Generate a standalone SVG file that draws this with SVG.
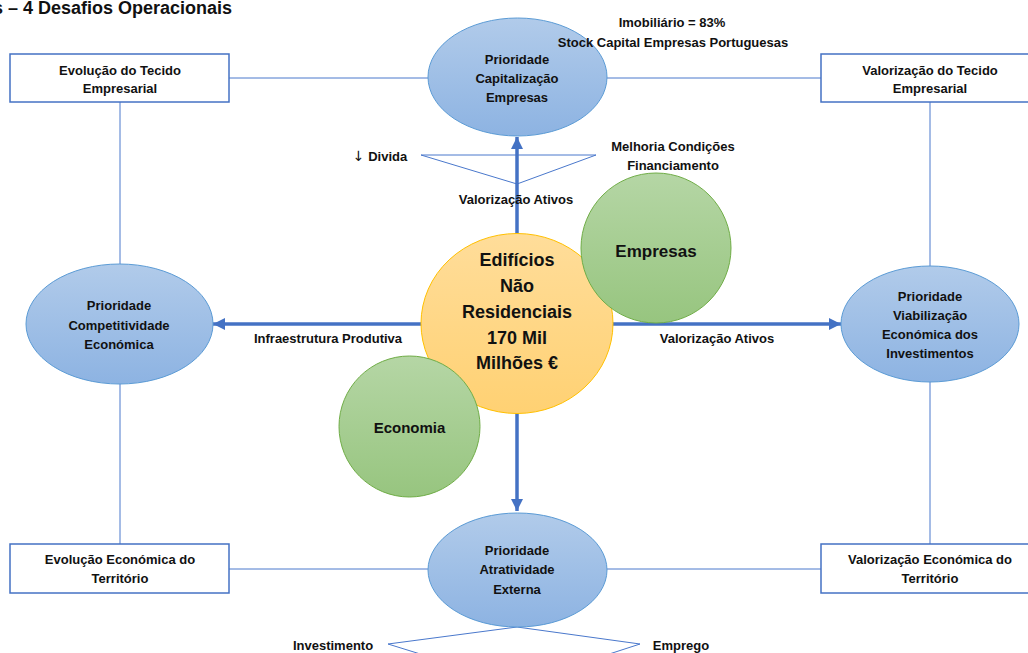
<svg xmlns="http://www.w3.org/2000/svg" width="1028" height="653" viewBox="0 0 1028 653">
<defs>
<linearGradient id="gBlue" x1="0" y1="0" x2="0" y2="1"><stop offset="0" stop-color="#B1CBEA"/><stop offset="1" stop-color="#8DB3E2"/></linearGradient>
<linearGradient id="gGold" x1="0" y1="0" x2="0" y2="1"><stop offset="0" stop-color="#FFDD9A"/><stop offset="1" stop-color="#FFD173"/></linearGradient>
<linearGradient id="gGreen" x1="0" y1="0" x2="0" y2="1"><stop offset="0" stop-color="#B5D6A5"/><stop offset="1" stop-color="#97C57F"/></linearGradient>
<marker id="ah" markerUnits="userSpaceOnUse" markerWidth="14" markerHeight="14" viewBox="0 0 14 14" refX="12" refY="7" orient="auto"><path d="M0,1 L12,7 L0,13 Z" fill="#4472C4"/></marker>
<style>
text{font-family:"Liberation Sans",Arial,sans-serif;font-weight:bold;fill:#111;text-anchor:middle}
.t{font-size:13px}
.box{fill:#fff;stroke:#4472C4;stroke-width:1.5}
.ell{fill:url(#gBlue);stroke:#5B9BD5;stroke-width:1}
.thin{stroke:#4A78CC;stroke-width:1;fill:none}
.arrow{stroke:#4472C4;stroke-width:3.5;fill:none;marker-end:url(#ah)}
.green{fill:url(#gGreen);stroke:#70AD47;stroke-width:1}
</style>
</defs>
<rect width="1028" height="653" fill="#fff"/>
<text x="232" y="14" style="font-size:18px;text-anchor:end">s – 4 Desafios Operacionais</text>

<g id="connectors">
<line class="thin" x1="229" y1="78" x2="428" y2="78"/>
<line class="thin" x1="607" y1="78" x2="821" y2="78"/>
<line class="thin" x1="229" y1="569" x2="428" y2="569"/>
<line class="thin" x1="607" y1="569" x2="821" y2="569"/>
<line class="thin" x1="120" y1="102" x2="120" y2="265"/>
<line class="thin" x1="120" y1="384" x2="120" y2="544"/>
<line class="thin" x1="930" y1="102" x2="930" y2="266"/>
<line class="thin" x1="930" y1="382" x2="930" y2="544"/>
<polygon class="thin" points="421,155 596,155 517,184"/>
<polygon class="thin" points="517,627 640,644 517,684 388,644"/>
<line class="arrow" x1="517" y1="236" x2="517" y2="137"/>
<line class="arrow" x1="517" y1="411" x2="517" y2="511"/>
<line class="arrow" x1="423" y1="324" x2="213" y2="324"/>
<line class="arrow" x1="611" y1="324" x2="841" y2="324"/>
</g>

<g id="box-tl"><rect class="box" x="10" y="54" width="219" height="48"/>
<text class="t" x="120" y="75">Evolução do Tecido</text><text class="t" x="120" y="93">Empresarial</text></g>
<g id="box-tr"><rect class="box" x="821" y="54" width="220" height="48"/>
<text class="t" x="930" y="75">Valorização do Tecido</text><text class="t" x="930" y="93">Empresarial</text></g>
<g id="box-bl"><rect class="box" x="10" y="544" width="219" height="49"/>
<text class="t" x="120" y="564">Evolução Económica do</text><text class="t" x="120" y="583">Território</text></g>
<g id="box-br"><rect class="box" x="821" y="544" width="220" height="49"/>
<text class="t" x="930" y="564">Valorização Económica do</text><text class="t" x="930" y="583">Território</text></g>

<g id="ell-top"><ellipse class="ell" cx="517.5" cy="77" rx="89.5" ry="59"/>
<text class="t" x="517" y="64">Prioridade</text><text class="t" x="517" y="83">Capitalização</text><text class="t" x="517" y="102">Empresas</text></g>
<g id="ell-left"><ellipse class="ell" cx="119.5" cy="324" rx="93.5" ry="60"/>
<text class="t" x="119" y="310">Prioridade</text><text class="t" x="119" y="330">Competitividade</text><text class="t" x="119" y="349">Económica</text></g>
<g id="ell-right"><ellipse class="ell" cx="930" cy="324" rx="89" ry="58"/>
<text class="t" x="930" y="301">Prioridade</text><text class="t" x="930" y="320">Viabilização</text><text class="t" x="930" y="339">Económica dos</text><text class="t" x="930" y="358">Investimentos</text></g>
<g id="ell-bottom"><ellipse class="ell" cx="517.5" cy="570" rx="89.5" ry="57"/>
<text class="t" x="517" y="555">Prioridade</text><text class="t" x="517" y="574">Atratividade</text><text class="t" x="517" y="594">Externa</text></g>

<g id="center"><ellipse cx="517" cy="323.5" rx="96" ry="90" fill="url(#gGold)" stroke="#FFC000" stroke-width="1"/>
<text style="font-size:18px" x="517" y="266">Edifícios</text>
<text style="font-size:18px" x="517" y="292">Não</text>
<text style="font-size:18px" x="517" y="318">Residenciais</text>
<text style="font-size:18px" x="517" y="344">170 Mil</text>
<text style="font-size:18px" x="517" y="369">Milhões €</text></g>

<g id="empresas"><circle class="green" cx="656" cy="248" r="75"/>
<text style="font-size:17px" x="656" y="257">Empresas</text></g>
<g id="economia"><circle class="green" cx="409.5" cy="426.5" r="70.5"/>
<text style="font-size:15px" x="409.5" y="433">Economia</text></g>

<g id="labels">
<text class="t" x="672" y="27">Imobiliário = 83%</text>
<text class="t" x="673" y="47">Stock Capital Empresas Portuguesas</text>
<text class="t" x="673" y="151">Melhoria Condições</text>
<text class="t" x="673" y="170">Financiamento</text>
<text class="t" x="380" y="161"><tspan style="font-family:'DejaVu Sans',sans-serif;font-weight:normal;font-size:14px">↓</tspan> Divida</text>
<text class="t" x="516" y="204">Valorização Ativos</text>
<text class="t" x="328" y="343">Infraestrutura Produtiva</text>
<text class="t" x="717" y="343">Valorização Ativos</text>
<text class="t" x="333" y="650">Investimento</text>
<text class="t" x="681" y="650">Emprego</text>
</g>
</svg>
